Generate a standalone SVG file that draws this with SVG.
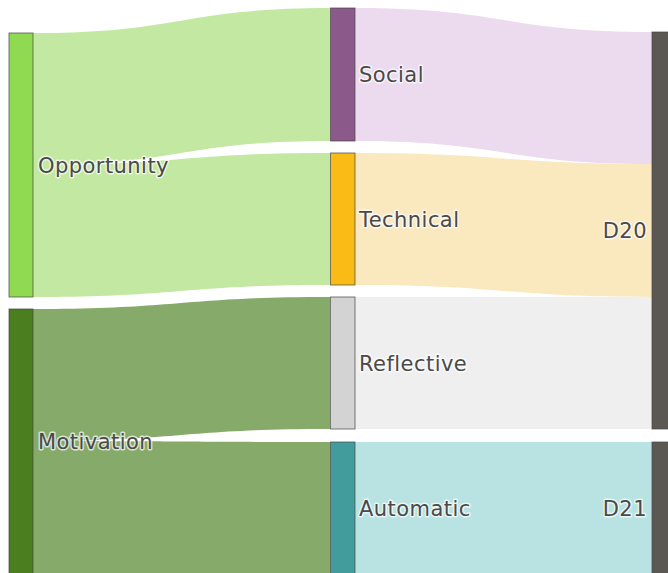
<svg xmlns="http://www.w3.org/2000/svg" width="668" height="573" viewBox="0 0 668 573">
<style>
.node rect{stroke:#444;stroke-opacity:0.7;stroke-width:1}
.lbl{font-family:"DejaVu Sans",Verdana,sans-serif;font-size:21px;letter-spacing:0.45px;fill:#4a4a4a;stroke:#fff;stroke-width:3;stroke-opacity:0.7;paint-order:stroke;stroke-linejoin:round}
.end{text-anchor:end}
</style>
<rect width="668" height="573" fill="#fff"/>
<g id="links">
<path d="M33,33 C181.5,33 181.5,8 330,8 L330,141 C181.5,141 181.5,165 33,165 Z" fill="#c2e8a2"/>
<path d="M33,165 C181.5,165 181.5,153 330,153 L330,285 C181.5,285 181.5,297 33,297 Z" fill="#c2e8a2"/>
<path d="M33,309 C181.5,309 181.5,297 330,297 L330,429 C181.5,429 181.5,441 33,441 Z" fill="#86aa69"/>
<path d="M33,441 C181.5,441 181.5,442 330,442 L330,574 C181.5,574 181.5,573 33,573 Z" fill="#86aa69"/>
<path d="M355,8 C503.5,8 503.5,32 652,32 L652,164 C503.5,164 503.5,141 355,141 Z" fill="#ecdaee"/>
<path d="M355,153 C503.5,153 503.5,164 652,164 L652,297 C503.5,297 503.5,285 355,285 Z" fill="#fae8bf"/>
<path d="M355,297 C503.5,297 503.5,297 652,297 L652,429 C503.5,429 503.5,429 355,429 Z" fill="#efefef"/>
<path d="M355,442 C503.5,442 503.5,442 652,442 L652,574 C503.5,574 503.5,574 355,574 Z" fill="#b8e3e2"/>
</g>
<g id="node-opportunity" class="node"><rect x="9" y="33" width="24" height="264" fill="#8fda50"/><text class="lbl" x="38" y="172.5">Opportunity</text></g>
<g id="node-motivation" class="node"><rect x="9" y="309" width="24" height="270" fill="#4a7e1e"/><text class="lbl" x="38" y="448.5">Motivation</text></g>
<g id="node-social" class="node"><rect x="330.5" y="8" width="24.5" height="133" fill="#8b5a8a"/><text class="lbl" x="359" y="82">Social</text></g>
<g id="node-technical" class="node"><rect x="330.5" y="153" width="24.5" height="132" fill="#fbbb17"/><text class="lbl" x="359" y="226.5">Technical</text></g>
<g id="node-reflective" class="node"><rect x="330.5" y="297" width="24.5" height="132" fill="#d3d3d3"/><text class="lbl" x="359" y="370.5">Reflective</text></g>
<g id="node-automatic" class="node"><rect x="330.5" y="442" width="24.5" height="137" fill="#439c9c"/><text class="lbl" x="359" y="515.5">Automatic</text></g>
<g id="node-d20" class="node"><rect x="652" y="32" width="24" height="397" fill="#5b5753"/><text class="lbl end" x="647" y="238">D20</text></g>
<g id="node-d21" class="node"><rect x="652" y="442" width="24" height="137" fill="#5b5753"/><text class="lbl end" x="647" y="515.5">D21</text></g>
</svg>
